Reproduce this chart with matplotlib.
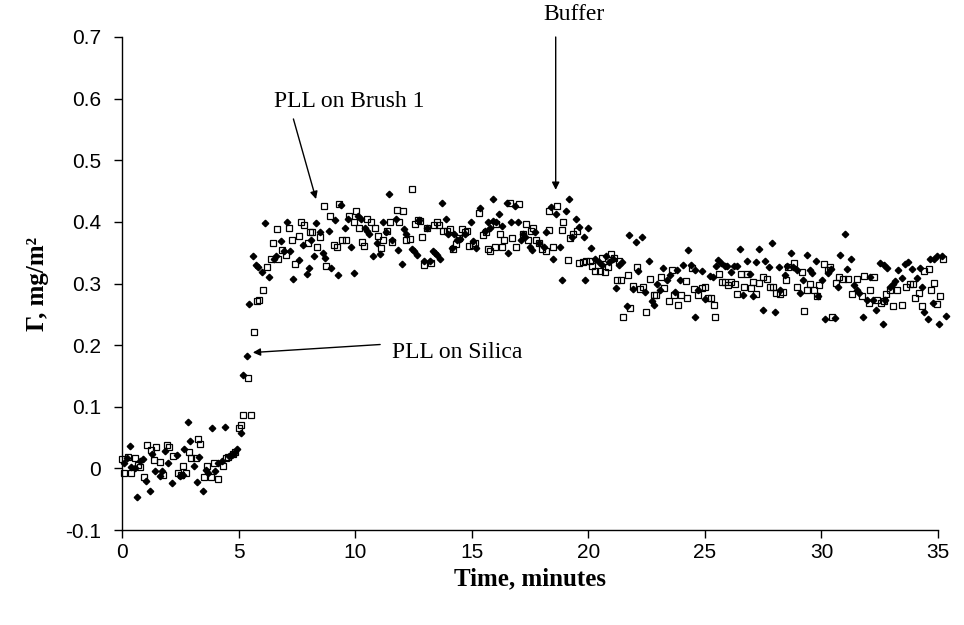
import matplotlib
matplotlib.use("Agg")
import matplotlib.pyplot as plt

# filled diamonds: time (min) and adsorbed amount (mg/m2)
t_fill = [0.07, 0.21, 0.36, 0.40, 0.55, 0.64, 0.78, 0.91, 1.03, 1.21,
          1.30, 1.42, 1.63, 1.70, 1.86, 1.98, 2.13, 2.36, 2.50, 2.60,
          2.65, 2.82, 2.92, 3.07, 3.22, 3.32, 3.47, 3.60, 3.70, 3.87,
          4.00, 4.13, 4.28, 4.43, 4.60, 4.70, 4.80, 4.93, 5.10, 5.18,
          5.35, 5.46, 5.61, 5.75, 5.85, 6.02, 6.13, 6.31, 6.50, 6.62,
          6.81, 6.95, 7.09, 7.22, 7.35, 7.60, 7.75, 7.92, 8.04, 8.10,
          8.22, 8.32, 8.47, 8.61, 8.72, 8.88, 8.98, 9.15, 9.25, 9.38,
          9.55, 9.70, 9.81, 9.95, 10.10, 10.25, 10.40, 10.50, 10.60, 10.78,
          10.95, 11.07, 11.20, 11.30, 11.44, 11.60, 11.76, 11.85, 12.00, 12.10,
          12.20, 12.43, 12.53, 12.67, 12.75, 12.96, 13.07, 13.20, 13.33, 13.43,
          13.50, 13.64, 13.74, 13.88, 14.00, 14.15, 14.25, 14.35, 14.50, 14.70,
          14.97, 15.05, 15.20, 15.36, 15.55, 15.70, 15.80, 15.90, 15.93, 16.05,
          16.18, 16.30, 16.50, 16.56, 16.70, 16.86, 17.00, 17.10, 17.20, 17.30,
          17.50, 17.60, 17.70, 17.90, 18.10, 18.20, 18.40, 18.50, 18.60, 18.78,
          18.89, 19.05, 19.19, 19.30, 19.48, 19.58, 19.80, 19.86, 20.00, 20.10,
          20.30, 20.45, 20.60, 20.75, 20.90, 21.05, 21.19, 21.30, 21.45, 21.65,
          21.75, 21.90, 22.04, 22.15, 22.31, 22.45, 22.60, 22.72, 22.80, 22.95,
          23.08, 23.20, 23.36, 23.50, 23.70, 23.80, 23.95, 24.07, 24.28, 24.40,
          24.56, 24.59, 24.70, 24.89, 25.02, 25.23, 25.35, 25.46, 25.56, 25.69,
          25.84, 25.95, 26.10, 26.24, 26.38, 26.52, 26.64, 26.81, 26.95, 27.08,
          27.18, 27.30, 27.47, 27.58, 27.76, 27.86, 28.01, 28.16, 28.23, 28.44,
          28.54, 28.69, 28.77, 28.94, 29.08, 29.20, 29.37, 29.49, 29.59, 29.77,
          29.87, 30.01, 30.16, 30.30, 30.41, 30.59, 30.70, 30.80, 30.99, 31.09,
          31.26, 31.40, 31.52, 31.63, 31.77, 31.94, 32.06, 32.23, 32.35, 32.49,
          32.62, 32.66, 32.73, 32.83, 32.95, 33.06, 33.16, 33.27, 33.45, 33.59,
          33.69, 33.88, 34.09, 34.23, 34.30, 34.38, 34.55, 34.66, 34.78, 34.83,
          34.95, 35.06, 35.15, 35.35]
g_fill = [0.009, 0.017, 0.036, 0.003, 0.000, -0.047, 0.012, 0.016, -0.021, -0.036,
          0.024, -0.004, -0.013, -0.004, 0.028, 0.008, -0.024, 0.021, -0.012, -0.010,
          0.031, 0.076, 0.045, 0.004, -0.022, 0.018, -0.036, -0.002, -0.008, 0.065,
          -0.004, 0.009, 0.012, 0.067, 0.020, 0.022, 0.025, 0.031, 0.058, 0.152,
          0.183, 0.266, 0.344, 0.330, 0.327, 0.318, 0.398, 0.310, 0.340, 0.345,
          0.369, 0.352, 0.399, 0.352, 0.308, 0.338, 0.363, 0.316, 0.325, 0.370,
          0.345, 0.398, 0.383, 0.349, 0.341, 0.386, 0.325, 0.403, 0.314, 0.427,
          0.390, 0.405, 0.359, 0.317, 0.410, 0.405, 0.390, 0.385, 0.380, 0.345,
          0.366, 0.348, 0.400, 0.383, 0.445, 0.370, 0.405, 0.355, 0.332, 0.388,
          0.380, 0.356, 0.352, 0.346, 0.403, 0.336, 0.390, 0.337, 0.353, 0.349,
          0.346, 0.340, 0.430, 0.405, 0.380, 0.357, 0.380, 0.370, 0.373, 0.380,
          0.400, 0.369, 0.357, 0.422, 0.385, 0.400, 0.390, 0.402, 0.437, 0.400,
          0.412, 0.393, 0.431, 0.350, 0.400, 0.426, 0.400, 0.370, 0.380, 0.375,
          0.360, 0.355, 0.383, 0.365, 0.360, 0.383, 0.424, 0.340, 0.412, 0.360,
          0.306, 0.418, 0.437, 0.375, 0.405, 0.392, 0.375, 0.306, 0.390, 0.358,
          0.340, 0.335, 0.330, 0.345, 0.335, 0.340, 0.293, 0.330, 0.335, 0.264,
          0.378, 0.291, 0.367, 0.320, 0.376, 0.286, 0.337, 0.272, 0.265, 0.300,
          0.290, 0.325, 0.305, 0.313, 0.286, 0.322, 0.305, 0.330, 0.354, 0.330,
          0.322, 0.246, 0.290, 0.321, 0.275, 0.312, 0.311, 0.328, 0.338, 0.333,
          0.329, 0.329, 0.318, 0.329, 0.329, 0.356, 0.281, 0.336, 0.315, 0.280,
          0.335, 0.356, 0.257, 0.337, 0.326, 0.365, 0.253, 0.326, 0.290, 0.314,
          0.328, 0.350, 0.326, 0.322, 0.284, 0.306, 0.346, 0.322, 0.317, 0.337,
          0.279, 0.306, 0.242, 0.317, 0.324, 0.244, 0.294, 0.346, 0.380, 0.324,
          0.339, 0.298, 0.290, 0.285, 0.246, 0.273, 0.310, 0.273, 0.257, 0.334,
          0.235, 0.330, 0.273, 0.325, 0.295, 0.300, 0.304, 0.322, 0.309, 0.332,
          0.335, 0.323, 0.309, 0.325, 0.295, 0.254, 0.242, 0.339, 0.268, 0.339,
          0.344, 0.235, 0.345, 0.247]

# open squares
t_open = [0.00, 0.10, 0.27, 0.39, 0.56, 0.70, 0.79, 0.96, 1.07, 1.24,
          1.36, 1.46, 1.64, 1.75, 1.93, 2.03, 2.20, 2.39, 2.55, 2.60,
          2.76, 2.86, 2.96, 3.17, 3.25, 3.36, 3.53, 3.63, 3.82, 3.93,
          4.10, 4.32, 4.46, 4.53, 4.75, 4.85, 5.00, 5.10, 5.20, 5.42,
          5.52, 5.68, 5.80, 5.89, 6.06, 6.21, 6.38, 6.46, 6.63, 6.70,
          6.85, 7.03, 7.14, 7.29, 7.42, 7.57, 7.68, 7.81, 7.97, 8.05,
          8.15, 8.38, 8.50, 8.67, 8.75, 8.92, 9.07, 9.21, 9.31, 9.45,
          9.60, 9.74, 9.93, 10.03, 10.15, 10.28, 10.38, 10.52, 10.66, 10.86,
          10.96, 11.11, 11.21, 11.37, 11.50, 11.60, 11.78, 11.90, 12.04, 12.18,
          12.33, 12.45, 12.57, 12.71, 12.78, 12.86, 12.96, 13.10, 13.27, 13.40,
          13.50, 13.60, 13.75, 13.93, 14.07, 14.21, 14.33, 14.45, 14.60, 14.70,
          14.80, 14.90, 15.05, 15.14, 15.32, 15.50, 15.60, 15.70, 15.80, 16.00,
          16.05, 16.20, 16.30, 16.40, 16.64, 16.72, 16.90, 17.04, 17.20, 17.32,
          17.42, 17.52, 17.62, 17.74, 17.88, 18.00, 18.20, 18.30, 18.33, 18.50,
          18.67, 18.85, 18.92, 19.12, 19.22, 19.35, 19.50, 19.62, 19.75, 19.90,
          20.05, 20.15, 20.29, 20.48, 20.58, 20.72, 20.86, 20.98, 21.12, 21.22,
          21.33, 21.41, 21.50, 21.68, 21.80, 21.90, 22.08, 22.22, 22.36, 22.48,
          22.65, 22.80, 22.90, 23.10, 23.25, 23.44, 23.60, 23.68, 23.83, 23.97,
          24.17, 24.25, 24.46, 24.55, 24.72, 24.86, 25.00, 25.12, 25.27, 25.41,
          25.44, 25.61, 25.72, 25.86, 26.00, 26.10, 26.29, 26.39, 26.53, 26.67,
          26.82, 26.96, 27.08, 27.21, 27.34, 27.51, 27.66, 27.80, 27.94, 28.06,
          28.20, 28.34, 28.48, 28.58, 28.80, 28.94, 29.16, 29.26, 29.37, 29.51,
          29.69, 29.80, 29.91, 30.09, 30.26, 30.37, 30.45, 30.63, 30.77, 30.94,
          31.12, 31.30, 31.54, 31.73, 31.83, 32.02, 32.09, 32.26, 32.40, 32.55,
          32.69, 32.77, 32.92, 33.06, 33.23, 33.45, 33.63, 33.78, 33.92, 34.02,
          34.20, 34.30, 34.40, 34.59, 34.69, 34.83, 34.95, 35.10, 35.20]
g_open = [0.015, -0.008, 0.018, -0.008, 0.017, 0.006, 0.002, -0.014, 0.038, 0.030,
          0.013, 0.034, 0.010, -0.011, 0.038, 0.034, 0.020, -0.007, -0.010, 0.004,
          -0.007, 0.026, 0.017, 0.017, 0.048, 0.040, -0.014, 0.004, -0.014, 0.008,
          -0.018, 0.004, 0.017, 0.019, 0.023, 0.027, 0.065, 0.070, 0.086, 0.147,
          0.086, 0.221, 0.271, 0.274, 0.290, 0.327, 0.339, 0.365, 0.388, 0.339,
          0.355, 0.346, 0.390, 0.370, 0.332, 0.377, 0.400, 0.395, 0.365, 0.383,
          0.383, 0.359, 0.376, 0.426, 0.329, 0.410, 0.363, 0.360, 0.429, 0.370,
          0.370, 0.410, 0.400, 0.418, 0.390, 0.368, 0.361, 0.405, 0.400, 0.390,
          0.377, 0.357, 0.370, 0.386, 0.400, 0.368, 0.420, 0.400, 0.417, 0.371,
          0.372, 0.454, 0.397, 0.403, 0.402, 0.375, 0.330, 0.390, 0.333, 0.395,
          0.400, 0.395, 0.386, 0.386, 0.388, 0.356, 0.364, 0.374, 0.388, 0.384,
          0.386, 0.361, 0.362, 0.366, 0.414, 0.378, 0.383, 0.356, 0.353, 0.360,
          0.396, 0.380, 0.360, 0.371, 0.430, 0.374, 0.360, 0.429, 0.380, 0.397,
          0.370, 0.385, 0.390, 0.370, 0.365, 0.356, 0.353, 0.387, 0.417, 0.360,
          0.425, 0.387, 0.400, 0.338, 0.374, 0.380, 0.385, 0.333, 0.335, 0.336,
          0.337, 0.329, 0.321, 0.321, 0.342, 0.318, 0.327, 0.348, 0.342, 0.306,
          0.336, 0.306, 0.245, 0.314, 0.261, 0.296, 0.326, 0.291, 0.295, 0.253,
          0.308, 0.281, 0.281, 0.310, 0.293, 0.272, 0.322, 0.281, 0.265, 0.281,
          0.304, 0.277, 0.325, 0.291, 0.282, 0.293, 0.295, 0.276, 0.277, 0.265,
          0.246, 0.315, 0.302, 0.302, 0.298, 0.302, 0.300, 0.283, 0.315, 0.295,
          0.315, 0.293, 0.303, 0.283, 0.301, 0.310, 0.307, 0.295, 0.295, 0.285,
          0.283, 0.287, 0.306, 0.327, 0.334, 0.295, 0.318, 0.255, 0.290, 0.299,
          0.290, 0.279, 0.298, 0.332, 0.322, 0.326, 0.245, 0.301, 0.310, 0.307,
          0.307, 0.283, 0.307, 0.279, 0.312, 0.268, 0.290, 0.310, 0.274, 0.268,
          0.271, 0.283, 0.290, 0.264, 0.290, 0.265, 0.294, 0.300, 0.300, 0.276,
          0.285, 0.264, 0.321, 0.323, 0.290, 0.301, 0.266, 0.280, 0.340]

x_ticks = [0, 5, 10, 15, 20, 25, 30, 35]
y_ticks = [-0.1, 0, 0.1, 0.2, 0.3, 0.4, 0.5, 0.6, 0.7]
y_tick_labels = ["-0.1", "0", "0.1", "0.2", "0.3", "0.4", "0.5", "0.6", "0.7"]

serif = "Liberation Serif"
sans = "Liberation Sans"

fig = plt.figure(figsize=(9.64, 6.25), dpi=100)
ax = fig.add_axes([0.1266, 0.152, 0.8465, 0.7888])

ax.plot(t_open, g_open, "s", ms=4.8, mfc="none", mec="black", mew=0.9,
        clip_on=False)
ax.plot(t_fill, g_fill, "D", ms=3.3, color="black", clip_on=False)

ax.set_xlim(0, 35)
ax.set_ylim(-0.1, 0.7)
ax.set_xticks(x_ticks)
ax.set_xticklabels([str(v) for v in x_ticks])
ax.set_yticks(y_ticks)
ax.set_yticklabels(y_tick_labels)
for lab in ax.get_xticklabels() + ax.get_yticklabels():
    lab.set_fontfamily(sans)
    lab.set_fontsize(15)
ax.tick_params(axis="x", direction="out", length=5.5, width=1, pad=4)
ax.tick_params(axis="y", direction="out", length=5.5, width=1, pad=9.5)

for side in ["top", "right"]:
    ax.spines[side].set_visible(False)
for side in ["left", "bottom"]:
    ax.spines[side].set_linewidth(1)

ax.set_xlabel("Time, minutes", fontfamily=serif, fontweight="bold",
              fontsize=18, labelpad=4)
ax.set_ylabel("Γ, mg/m²", fontfamily=serif, fontweight="bold",
              fontsize=18, labelpad=12)

arrow = dict(arrowstyle="-|>", color="black", lw=1, mutation_scale=11,
             shrinkA=0, shrinkB=0)

ax.annotate("", xy=(18.6, 0.452), xytext=(18.6, 0.700), arrowprops=arrow,
            annotation_clip=False)
ax.text(19.4, 0.728, "Buffer", fontfamily=serif, fontsize=17,
        ha="center", va="baseline", clip_on=False)

ax.annotate("", xy=(8.32, 0.437), xytext=(7.35, 0.567), arrowprops=arrow)
ax.text(9.74, 0.587, "PLL on Brush 1", fontfamily=serif, fontsize=17,
        ha="center", va="baseline")

ax.annotate("", xy=(5.61, 0.188), xytext=(11.07, 0.201), arrowprops=arrow)
ax.text(14.39, 0.179, "PLL on Silica", fontfamily=serif, fontsize=17,
        ha="center", va="baseline")

fig.savefig("out.png", dpi=100)
